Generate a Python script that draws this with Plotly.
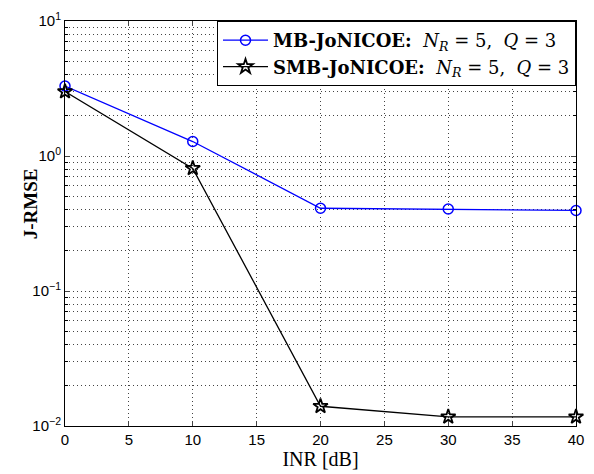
import plotly.graph_objects as go

inr_db = [0, 10, 20, 30, 40]
mb_jrmse = [3.3, 1.28, 0.41, 0.405, 0.395]
smb_jrmse = [3.0, 0.81, 0.014, 0.0117, 0.0117]

mb_name = "<b>MB-JoNICOE:</b>&nbsp; <i>N</i><sub><i>R</i></sub> = 5,&nbsp; <i>Q</i> = 3"
smb_name = "<b>SMB-JoNICOE:</b>&nbsp; <i>N</i><sub><i>R</i></sub> = 5,&nbsp; <i>Q</i> = 3"

x_ticks = [0, 5, 10, 15, 20, 25, 30, 35, 40]
y_tickvals = [0.01, 0.1, 1, 10]
y_ticktext = ["10<sup>\u22122</sup>", "10<sup>\u22121</sup>", "10<sup>0</sup>", "10<sup>1</sup>"]
y_minor_vals = [m * d for d in (0.01, 0.1, 1) for m in range(2, 10)]

fig = go.Figure()
fig.add_trace(go.Scatter(
    x=inr_db, y=mb_jrmse, name=mb_name, mode="lines+markers", cliponaxis=False,
    line=dict(color="#0000ff", width=1.3),
    marker=dict(symbol="circle-open", size=10, color="#0000ff", line=dict(width=1.5)),
))
fig.add_trace(go.Scatter(
    x=inr_db, y=smb_jrmse, name=smb_name, mode="lines+markers", cliponaxis=False,
    line=dict(color="black", width=1.3),
    marker=dict(symbol="star-open", size=11, color="black", line=dict(width=1.8)),
))

serif = "Liberation Serif, Times New Roman, serif"
grid_col = "#444444"
fig.update_layout(
    width=594, height=474,
    margin=dict(l=65, r=10, t=21, b=45),
    paper_bgcolor="white", plot_bgcolor="white",
    font=dict(family="Liberation Sans, Arial, sans-serif", size=15, color="black"),
    legend=dict(
        x=1, y=1, xanchor="right", yanchor="top",
        bgcolor="white", bordercolor="black", borderwidth=1,
        font=dict(family="DejaVu Serif, serif", size=18, color="black"),
        tracegroupgap=0, itemwidth=45,
    ),
    xaxis=dict(
        range=[0, 40], tickvals=x_ticks, ticks="inside", ticklen=5,
        showline=True, linecolor="black", linewidth=1, mirror="ticks",
        showgrid=True, gridcolor=grid_col, griddash="1px,3px", gridwidth=1,
        zeroline=False,
        title=dict(text="INR [dB]", standoff=2, font=dict(family=serif, size=20)),
    ),
    yaxis=dict(
        type="log", range=[-2, 1], tickvals=y_tickvals, ticktext=y_ticktext,
        ticks="inside", ticklen=5,
        showline=True, linecolor="black", linewidth=1, mirror="ticks",
        showgrid=True, gridcolor=grid_col, griddash="1px,3px", gridwidth=1,
        zeroline=False,
        minor=dict(tickmode="array", tickvals=y_minor_vals, ticks="inside", ticklen=3,
                   tickcolor="black", showgrid=True, gridcolor=grid_col,
                   griddash="1px,3px", gridwidth=1),
    ),
    annotations=[dict(
        text="<b>J-RMSE</b>", textangle=-90, showarrow=False,
        xref="paper", yref="paper", x=-0.0674, y=0.549,
        xanchor="center", yanchor="middle",
        font=dict(family=serif, size=19, color="black"),
    )],
)

fig.write_html("out.html", config={"displayModeBar": False},
               post_script="document.body.style.margin='0';")
